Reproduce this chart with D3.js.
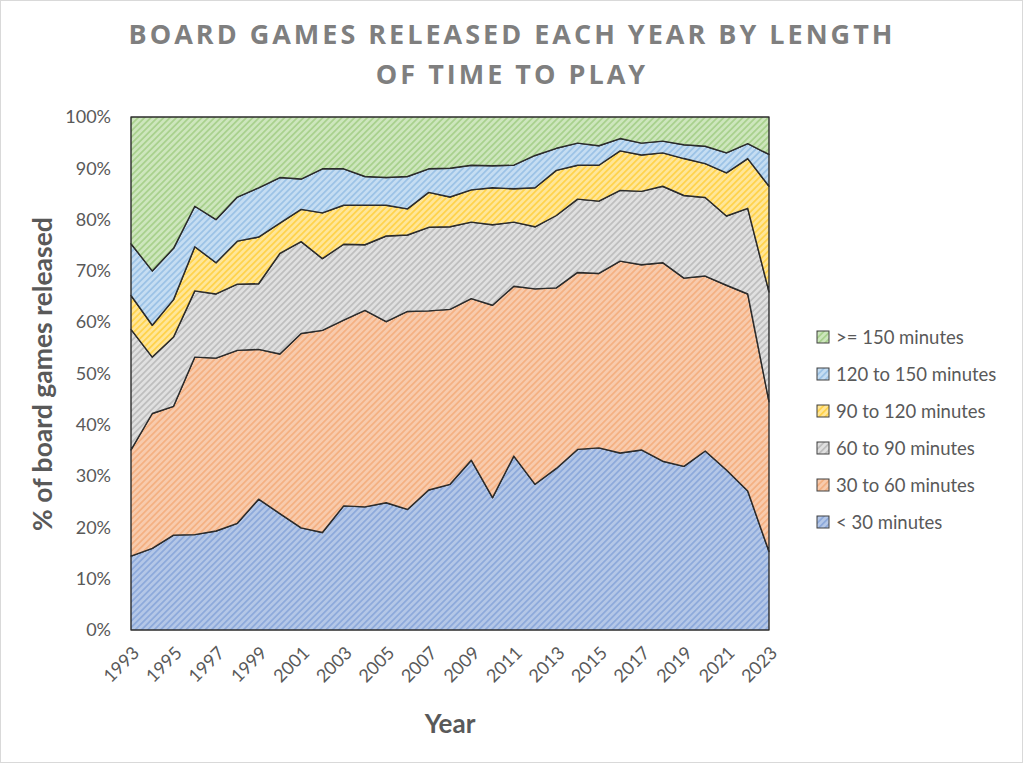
<!DOCTYPE html>
<html><head><meta charset="utf-8">
<script src="https://cdn.jsdelivr.net/npm/d3@7"></script>
<style>
html,body{margin:0;padding:0;background:#fff;}
</style></head>
<body>
<svg id="chart" width="1024" height="764"></svg>
<script>
const years = d3.range(1993, 2024);
const seriesNames = ["< 30 minutes","30 to 60 minutes","60 to 90 minutes","90 to 120 minutes","120 to 150 minutes",">= 150 minutes"];
const under30   = [14.4,15.9,18.5,18.6,19.3,20.8,25.5,22.7,19.9,19.0,24.2,24.0,24.8,23.5,27.3,28.4,33.1,25.8,33.9,28.4,31.5,35.2,35.5,34.5,35.1,32.9,31.9,34.9,31.2,27.1,15.3];
const m30to60   = [20.7,26.3,25.1,34.6,33.7,33.7,29.2,31.1,37.9,39.4,36.2,38.3,35.3,38.6,34.9,34.1,31.5,37.5,33.1,38.1,35.2,34.5,34.0,37.4,36.1,38.7,36.7,34.1,36.0,38.4,29.2];
const m60to90   = [23.5,11.0,13.5,12.9,12.5,12.9,12.8,19.6,17.9,14.0,14.8,12.8,16.7,14.9,16.3,16.1,14.9,15.7,12.5,12.1,14.1,14.3,14.1,13.8,14.3,14.9,16.1,15.3,13.5,16.7,21.4];
const m90to120  = [6.6,6.2,7.3,8.6,6.1,8.4,9.1,5.9,6.3,8.9,7.6,7.7,6.0,5.1,6.8,5.8,6.3,7.2,6.5,7.6,8.8,6.6,7.0,7.7,7.1,6.5,7.2,6.6,8.4,9.7,20.6];
const m120to150 = [10.1,10.6,10.0,7.9,8.4,8.6,9.6,8.9,5.9,8.6,7.1,5.6,5.4,6.3,4.6,5.6,4.8,4.3,4.6,6.3,4.3,4.3,3.8,2.4,2.3,2.3,2.7,3.4,3.9,2.9,6.2];
const over150   = [24.7,30.0,25.6,17.4,20.0,15.6,13.8,11.8,12.1,10.1,10.1,11.6,11.8,11.6,10.1,10.0,9.4,9.5,9.4,7.5,6.1,5.1,5.6,4.2,5.1,4.7,5.4,5.7,7.0,5.2,7.3];
const yTicks = [0,10,20,30,40,50,60,70,80,90,100];
const xTickYears = d3.range(1993, 2024, 2);

const seriesValues = [under30, m30to60, m60to90, m90to120, m120to150, over150];
const table = years.map((y, i) => {
  const row = {year: y};
  seriesNames.forEach((n, k) => row[n] = seriesValues[k][i]);
  return row;
});
const fills = [
  {bg:"#b4c7e7", fg:"#8eaadb"},
  {bg:"#f8cbad", fg:"#f4b183"},
  {bg:"#e0e0e0", fg:"#bfbfbf"},
  {bg:"#ffe699", fg:"#ffd34d"},
  {bg:"#c5ddf2", fg:"#9dc3e6"},
  {bg:"#cde6bd", fg:"#a9d18e"}
];

const svg = d3.select("#chart");
svg.append("rect").attr("x",0.5).attr("y",0.5).attr("width",1022).attr("height",762)
  .attr("fill","#fff").attr("stroke","#d9d9d9");

const defs = svg.append("defs");
fills.forEach((f, i) => {
  const p = defs.append("pattern").attr("id","pat"+i).attr("patternUnits","userSpaceOnUse")
    .attr("width",4.5).attr("height",4.5).attr("patternTransform","rotate(45)");
  p.append("rect").attr("width",4.5).attr("height",4.5).attr("fill",f.bg);
  p.append("rect").attr("width",1.8).attr("height",4.5).attr("fill",f.fg);
});

const m = {left:131, right:769, top:117, bottom:630};
const x = d3.scaleLinear().domain([1993, 2023]).range([m.left, m.right]);
const y = d3.scaleLinear().domain([0, 100]).range([m.bottom, m.top]);

const stack = d3.stack().keys(seriesNames);
const layers = stack(table);
const area = d3.area().x(d => x(d.data.year)).y0(d => y(d[0])).y1(d => y(Math.min(d[1],100)));

svg.append("g").selectAll("path").data(layers).join("path")
  .attr("d", area)
  .attr("fill", (d,i) => `url(#pat${i})`)
  .attr("stroke", "#2b2b2b").attr("stroke-width", 1.4).attr("stroke-linejoin","round");

// y axis
const yAxis = svg.append("g").attr("transform",`translate(${m.left},0)`)
  .call(d3.axisLeft(y).tickValues(yTicks).tickFormat(d => d + "%").tickSize(0).tickPadding(20));
yAxis.select(".domain").remove();
yAxis.selectAll("text").attr("font-size",18).attr("fill","#595959").style("font-family","Lato");

// x axis
const xAxis = svg.append("g").attr("transform",`translate(0,${m.bottom})`)
  .call(d3.axisBottom(x).tickValues(xTickYears).tickFormat(d3.format("d")).tickSize(0));
xAxis.select(".domain").remove();
xAxis.selectAll("text").attr("font-size",18).attr("fill","#595959").style("font-family","Lato")
  .attr("text-anchor","end").attr("dy",0).attr("y",0)
  .attr("transform","translate(9,24) rotate(-45)");

// titles
const title = svg.append("text").attr("text-anchor","middle").attr("fill","#7f7f7f")
  .style("font-family","'Open Sans'").attr("font-weight","bold").attr("font-size",27)
  .attr("letter-spacing",3);
title.append("tspan").attr("x",512).attr("y",44).text("BOARD GAMES RELEASED EACH YEAR BY LENGTH");
title.append("tspan").attr("x",512).attr("y",84).text("OF TIME TO PLAY");

svg.append("text").attr("x",450).attr("y",733).attr("text-anchor","middle").style("font-family","Lato")
  .attr("font-weight","bold").attr("font-size",26).attr("fill","#595959").text("Year");
svg.append("text").attr("transform","translate(52,374) rotate(-90)").attr("text-anchor","middle").style("font-family","Lato")
  .attr("font-weight","bold").attr("font-size",26.5).attr("fill","#595959").text("% of board games released");

// legend
const legendOrder = seriesNames.map((n,i)=>({n,i})).reverse();
const lg = svg.append("g").selectAll("g").data(legendOrder).join("g")
  .attr("transform",(d,k)=>`translate(817,${337 + k*37})`);
lg.append("rect").attr("x",0).attr("y",-6).attr("width",12).attr("height",12)
  .attr("fill",d=>`url(#pat${d.i})`).attr("stroke","#404040").attr("stroke-width",1);
lg.append("text").attr("x",19).attr("y",6.5).style("font-family","Lato").attr("font-size",18.5).attr("fill","#595959").text(d=>d.n);
</script>
</body></html>
